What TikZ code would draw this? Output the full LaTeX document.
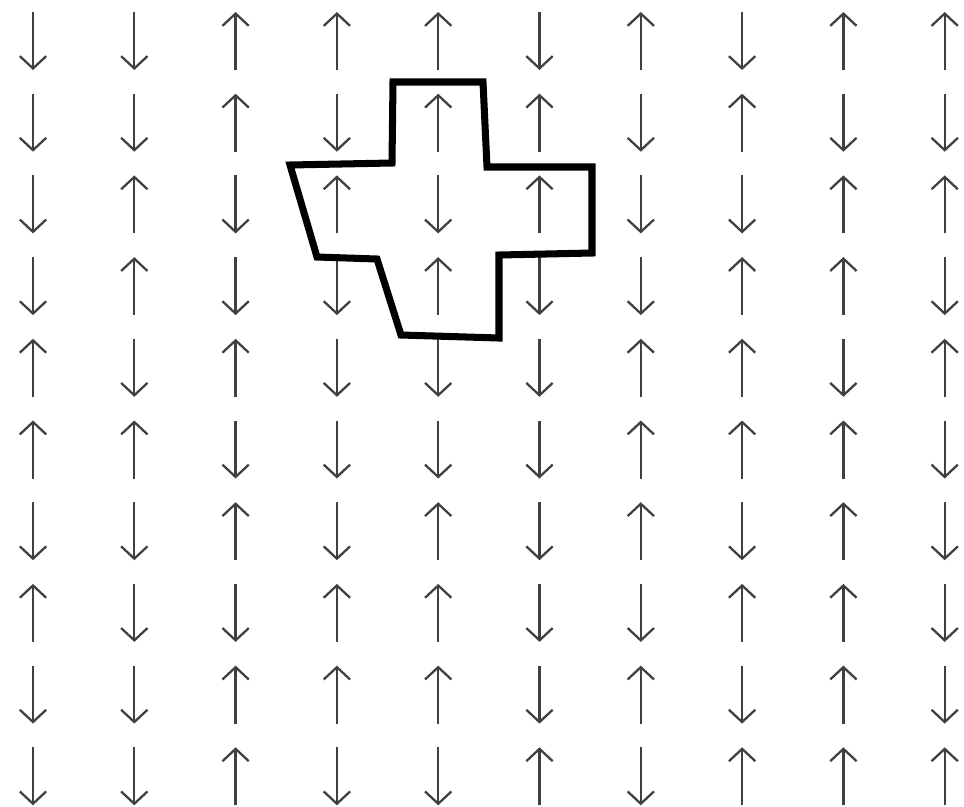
\documentclass[tikz,border=0pt]{standalone}
\usetikzlibrary{arrows.meta}
\definecolor{spingray}{RGB}{64,64,64}

\begin{document}
\begin{tikzpicture}[
  x=0.02cm,y=-0.02cm,
  spin/.style={-{Straight Barb[length=7pt,width=15pt,line width=1.3pt]},line width=1.3pt,draw=spingray},
  cluster/.style={draw=black,line width=4pt,line join=miter}
]
\useasboundingbox (0,0) rectangle (964,806);
% 1 = spin up, -1 = spin down, row by row from the top
\foreach \row [count=\j from 0] in {
  {-1,-1,1,1,1,-1,1,-1,1,1},
  {-1,-1,1,-1,1,1,-1,1,-1,-1},
  {-1,1,-1,1,-1,1,-1,-1,1,1},
  {-1,1,-1,-1,1,-1,-1,1,1,-1},
  {1,-1,1,-1,-1,-1,1,1,-1,1},
  {1,1,-1,-1,-1,-1,1,1,1,-1},
  {-1,-1,1,-1,1,-1,1,-1,1,-1},
  {1,-1,-1,1,1,-1,-1,1,1,-1},
  {-1,-1,1,1,1,-1,1,-1,1,-1},
  {-1,-1,1,-1,-1,1,-1,1,1,1}}
  \foreach \s [count=\i from 0] in \row
    \draw[spin] ({33+101.3*\i},{41+81.7*\j+29*\s}) -- ++(0,{-58*\s});
% flipped cluster
\draw[cluster] (393,82) -- (483,82) -- (487,167) -- (592,167) -- (592,253)
  -- (499,255) -- (499,338) -- (401,335) -- (377,259) -- (317,257)
  -- (290,165) -- (392,163) -- cycle;
\end{tikzpicture}
\end{document}
